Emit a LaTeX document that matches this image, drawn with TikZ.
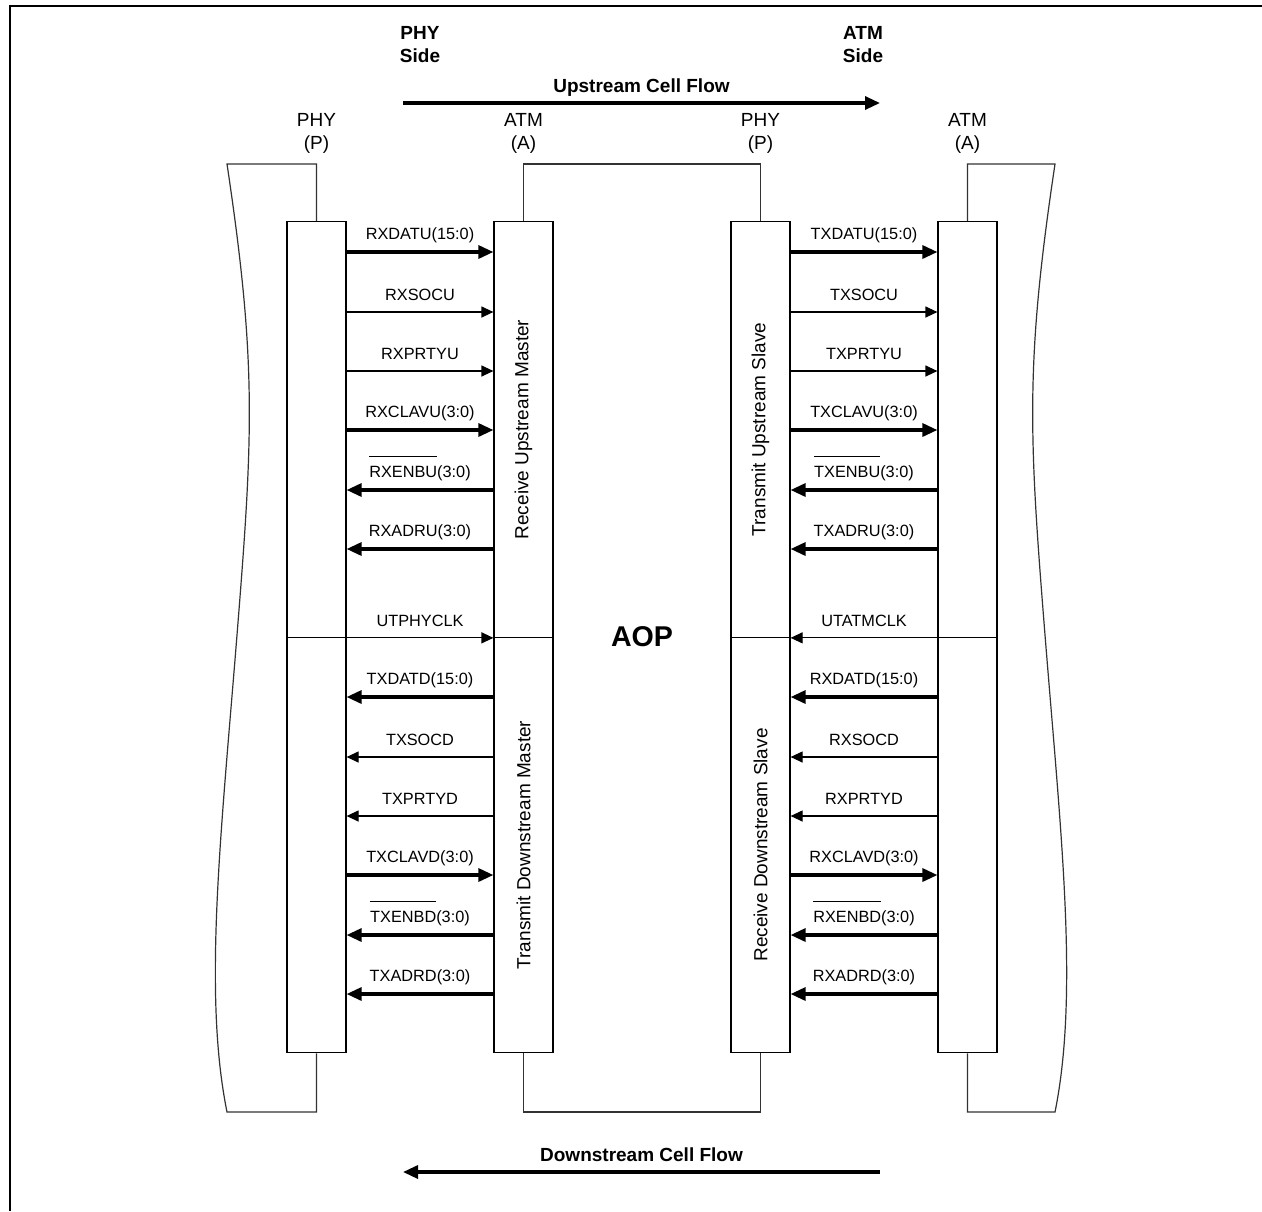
\documentclass[tikz,border=0pt]{standalone}
\usepackage{fontspec}
\setmainfont{Liberation Sans}
\usetikzlibrary{arrows.meta}
\newcommand\sigfont{\fontsize{8.15}{9.8}\selectfont}
\newcommand\midfont{\fontsize{9.5}{11.5}\selectfont}
\newcommand\nbar[1]{$\overline{\mbox{\rule{0pt}{9pt}#1}}$}
\tikzset{
  box/.style={draw, line width=.6pt, inner sep=0pt, minimum width=29.5pt, minimum height=207.75pt},
  chip/.style={draw=black!80, line width=.6pt},
  bus/.style={line width=1.6pt},
  wire/.style={line width=.6pt},
  busr/.style={bus, -{Triangle[length=7.5pt,width=6.5pt]}},
  busl/.style={bus, {Triangle[length=7.5pt,width=6.5pt]}-},
  wirer/.style={wire, -{Triangle[length=6pt,width=5.5pt]}},
  wirel/.style={wire, {Triangle[length=6pt,width=5.5pt]}-},
  sig/.style={above=5.5pt, inner sep=0pt, text depth=0pt, font=\sigfont},
  side/.style={align=center, font=\midfont},
  flow/.style={above=4.5pt, inner sep=0pt, text depth=0pt, font=\midfont\bfseries},
}
\begin{document}
\begin{tikzpicture}[x=.5pt, y=-.5pt]
\useasboundingbox (0,0) rectangle (1262,1211);
\draw[line width=1pt](1262,6)--(10,6)--(10,1211);

% interface boxes, upper and lower halves
\node[box](lpU) at (316.5,429.5){};
\node[box](lpD) at (316.5,845){};
\node[box](laU) at (523.5,429.5){};
\node[box](laD) at (523.5,845){};
\node[box](rpU) at (760.5,429.5){};
\node[box](rpD) at (760.5,845){};
\node[box](raU) at (967.5,429.5){};
\node[box](raD) at (967.5,845){};

% device outlines
\draw[chip](lpU.north)--(lpU.north|-0,164)--(227,164)
  .. controls (257,364) and (253,435) .. (237,635)
  .. controls (221,835) and (203,993) .. (227,1112)--(lpD.south|-0,1112)--(lpD.south);
\draw[chip](laU.north)--(laU.north|-0,164)--(rpU.north|-0,164)--(rpU.north);
\draw[chip](laD.south)--(laD.south|-0,1112)--(rpD.south|-0,1112)--(rpD.south);
\draw[chip](raU.north)--(raU.north|-0,164)--(1055,164)
  .. controls (1025,364) and (1029,435) .. (1045,635)
  .. controls (1061,835) and (1079,993) .. (1055,1112)--(raD.south|-0,1112)--(raD.south);

\node[side](phyL) at (316.5,133){PHY\\(P)};
\node[side](atmL) at (523.5,133){ATM\\(A)};
\node[side](phyR) at (760.5,133){PHY\\(P)};
\node[side](atmR) at (967.5,133){ATM\\(A)};
\node[side, font=\midfont\bfseries](phySide) at (420,45){PHY\\Side};
\node[side, font=\midfont\bfseries](atmSide) at (863,45){ATM\\Side};

\coordinate(upL) at (403,103);
\coordinate(upR) at (880,103);
\draw[busr](upL)--node[flow]{Upstream Cell Flow}(upR);
\coordinate(dnL) at (403,1172);
\coordinate(dnR) at (880,1172);
\draw[busl](dnL)--node[flow]{Downstream Cell Flow}(dnR);

\node[font=\fontsize{14.3}{17}\selectfont\bfseries](aop) at (642,637){AOP};

\node[side, rotate=90](rum) at (laU){Receive Upstream Master};
\node[side, rotate=90](tdm) at (laD){Transmit Downstream Master};
\node[side, rotate=90](tus) at (rpU){Transmit Upstream Slave};
\node[side, rotate=90](rds) at (rpD){Receive Downstream Slave};

% signals, left pair
\foreach \y/\s/\t in {252/busr/{RXDATU(15:0)}, 312/wirer/RXSOCU, 371/wirer/RXPRTYU,
  430/busr/{RXCLAVU(3:0)}, 490/busl/{\nbar{RXENBU}(3:0)}, 549/busl/{RXADRU(3:0)}}
{
    \draw[\s](lpU.east|-0,\y)--node[sig]{\t}(laU.west|-0,\y);
}
\foreach \y/\s/\t in {697/busl/{TXDATD(15:0)}, 757/wirel/TXSOCD, 816/wirel/TXPRTYD,
  875/busr/{TXCLAVD(3:0)}, 935/busl/{\nbar{TXENBD}(3:0)}, 994/busl/{TXADRD(3:0)}}
{
    \draw[\s](lpD.east|-0,\y)--node[sig]{\t}(laD.west|-0,\y);
}
\draw[wirer](lpU.south east)--node[sig]{UTPHYCLK}(laU.south west);

% signals, right pair
\foreach \y/\s/\t in {252/busr/{TXDATU(15:0)}, 312/wirer/TXSOCU, 371/wirer/TXPRTYU,
  430/busr/{TXCLAVU(3:0)}, 490/busl/{\nbar{TXENBU}(3:0)}, 549/busl/{TXADRU(3:0)}}
{
    \draw[\s](rpU.east|-0,\y)--node[sig]{\t}(raU.west|-0,\y);
}
\foreach \y/\s/\t in {697/busl/{RXDATD(15:0)}, 757/wirel/RXSOCD, 816/wirel/RXPRTYD,
  875/busr/{RXCLAVD(3:0)}, 935/busl/{\nbar{RXENBD}(3:0)}, 994/busl/{RXADRD(3:0)}}
{
    \draw[\s](rpD.east|-0,\y)--node[sig]{\t}(raD.west|-0,\y);
}
\draw[wirel](rpU.south east)--node[sig]{UTATMCLK}(raU.south west);

\end{tikzpicture}
\end{document}
